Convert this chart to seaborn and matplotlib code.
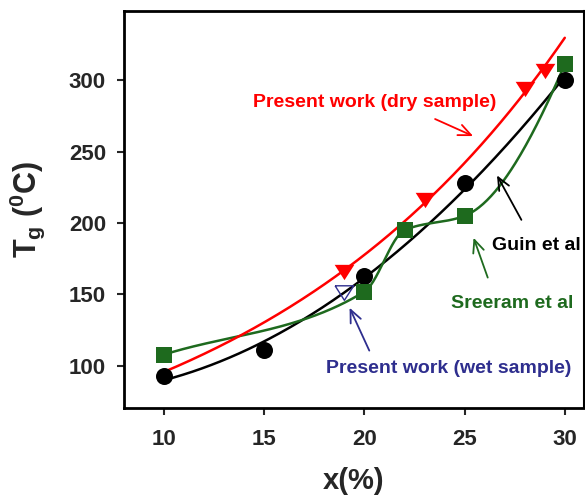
import numpy as np
import pandas as pd
import matplotlib
matplotlib.use("Agg")
import matplotlib.pyplot as plt
import seaborn as sns

sns.set_style("white")
plt.rcParams["font.family"] = ["Liberation Sans", "DejaVu Sans"]
plt.rcParams["font.weight"] = "bold"
plt.rcParams["mathtext.fontset"] = "custom"
plt.rcParams["mathtext.rm"] = "Liberation Sans:bold"
plt.rcParams["mathtext.bf"] = "Liberation Sans:bold"
plt.rcParams["mathtext.it"] = "Liberation Sans:bold"

# Glass transition temperature vs. composition
guin_x = [10, 15, 20, 25, 30]
guin_tg = [93, 111, 163, 228, 300]

sreeram_x = [10, 20, 22, 25, 30]
sreeram_tg = [108, 152, 195, 205, 311]

dry_x = [19, 23, 28, 29]
dry_tg = [166, 216, 294, 306]

wet_x = [19]
wet_tg = [151]

RED = "#ff0000"
GREEN = "#1e6a1e"
BLUE = "#2e2e8e"
BLACK = "#000000"


def pchip(x, y, xs):
    """Monotone piecewise cubic Hermite interpolation."""
    x = np.asarray(x, float)
    y = np.asarray(y, float)
    h = np.diff(x)
    d = np.diff(y) / h
    n = len(x)
    m = np.zeros(n)
    for i in range(1, n - 1):
        if d[i - 1] * d[i] <= 0:
            m[i] = 0.0
        else:
            w1 = 2 * h[i] + h[i - 1]
            w2 = h[i] + 2 * h[i - 1]
            m[i] = (w1 + w2) / (w1 / d[i - 1] + w2 / d[i])

    def end(h0, h1, d0, d1):
        s = ((2 * h0 + h1) * d0 - h0 * d1) / (h0 + h1)
        if np.sign(s) != np.sign(d0):
            s = d0
        elif np.sign(d0) != np.sign(d1) and abs(s) > abs(3 * d0):
            s = 3 * d0
        return s

    m[0] = end(h[0], h[1], d[0], d[1])
    m[-1] = end(h[-1], h[-2], d[-1], d[-2])

    out = np.empty_like(xs)
    for k, xv in enumerate(xs):
        i = int(np.clip(np.searchsorted(x, xv, side="right") - 1, 0, n - 2))
        t = (xv - x[i]) / h[i]
        h00 = 2 * t ** 3 - 3 * t ** 2 + 1
        h10 = t ** 3 - 2 * t ** 2 + t
        h01 = -2 * t ** 3 + 3 * t ** 2
        h11 = t ** 3 - t ** 2
        out[k] = (h00 * y[i] + h10 * h[i] * m[i]
                  + h01 * y[i + 1] + h11 * h[i] * m[i + 1])
    return out


xs = np.linspace(10, 30, 300)

# exponential trend for the dry samples
b_dry, loga_dry = np.polyfit(dry_x, np.log(dry_tg), 1)
dry_fit = np.exp(loga_dry) * np.exp(b_dry * xs)

# quadratic trend for Guin et al
guin_fit = np.polyval(np.polyfit(guin_x, guin_tg, 2), xs)

# smooth curve through Sreeram et al
sreeram_fit = pchip(sreeram_x, sreeram_tg, xs)

fig = plt.figure(figsize=(5.85, 4.97), dpi=100)
ax = fig.add_axes([0.212, 0.179, 0.786, 0.799])

sns.lineplot(x=xs, y=guin_fit, color=BLACK, lw=1.8, ax=ax)
sns.lineplot(x=xs, y=sreeram_fit, color=GREEN, lw=1.8, ax=ax)
sns.lineplot(x=xs, y=dry_fit, color=RED, lw=1.8, ax=ax)

# wide, closed down-pointing triangle
tri_down = [(-1.0, 0.78), (1.0, 0.78), (0.0, -0.78), (-1.0, 0.78)]
sns.scatterplot(x=guin_x, y=guin_tg, marker="o", s=150, color=BLACK,
                edgecolor=BLACK, linewidth=0, ax=ax, zorder=4)
sns.scatterplot(x=sreeram_x, y=sreeram_tg, marker="s", s=122, color=GREEN,
                edgecolor=GREEN, linewidth=0, ax=ax, zorder=5)
sns.scatterplot(x=dry_x, y=dry_tg, marker=tri_down, s=200, color=RED,
                edgecolor=RED, linewidth=0, ax=ax, zorder=5)
sns.scatterplot(x=wet_x, y=wet_tg, marker=tri_down, s=180, color="white",
                edgecolor=BLUE, linewidth=1.0, alpha=1, ax=ax, zorder=5)
ax.collections[-1].set_facecolor("none")

arrow_kw = dict(arrowstyle="->,head_length=0.9,head_width=0.4", lw=1.3)
ax.annotate("", xy=(25.55, 260), xytext=(23.4, 273.5),
            arrowprops=dict(color=RED, **arrow_kw))
ax.annotate("", xy=(26.55, 235), xytext=(27.9, 200.5),
            arrowprops=dict(color=BLACK, **arrow_kw))
ax.annotate("", xy=(25.4, 191.5), xytext=(26.2, 160),
            arrowprops=dict(color=GREEN, **arrow_kw))
ax.annotate("", xy=(19.2, 142.5), xytext=(20.3, 109),
            arrowprops=dict(color=BLUE, **arrow_kw))

txt_kw = dict(fontsize=14, fontweight="bold", ha="center", va="center")
ax.text(20.5, 284, "Present work (dry sample)", color=RED, **txt_kw)
ax.text(28.6, 184, "Guin et al", color=BLACK, **txt_kw)
ax.text(27.35, 144, "Sreeram et al", color=GREEN, **txt_kw)
ax.text(24.2, 98.5, "Present work (wet sample)", color=BLUE, **txt_kw)

ax.set_xlim(8.0, 30.95)
ax.set_ylim(70.6, 348.3)
ax.set_xticks([10, 15, 20, 25, 30])
ax.set_yticks([100, 150, 200, 250, 300])
ax.tick_params(axis="both", which="major", direction="out", length=5,
               width=1.5, labelsize=16, bottom=True, left=True)
ax.tick_params(axis="x", pad=10)
ax.tick_params(axis="y", pad=8)
for lab in ax.get_xticklabels() + ax.get_yticklabels():
    lab.set_fontweight("bold")

for side in ["left", "bottom", "top"]:
    ax.spines[side].set_linewidth(2)
ax.spines["right"].set_linewidth(1.5)
for sp in ax.spines.values():
    sp.set_color("black")

ax.set_xlabel("x(%)", fontsize=21, fontweight="bold")
ax.set_ylabel(r"$\mathregular{T_g}$ ($\mathregular{^0}$C)", fontsize=22,
              fontweight="bold")
ax.xaxis.set_label_coords(0.5, -0.148)
ax.yaxis.set_label_coords(-0.168, 0.5)

fig.savefig("out.png", dpi=100)
